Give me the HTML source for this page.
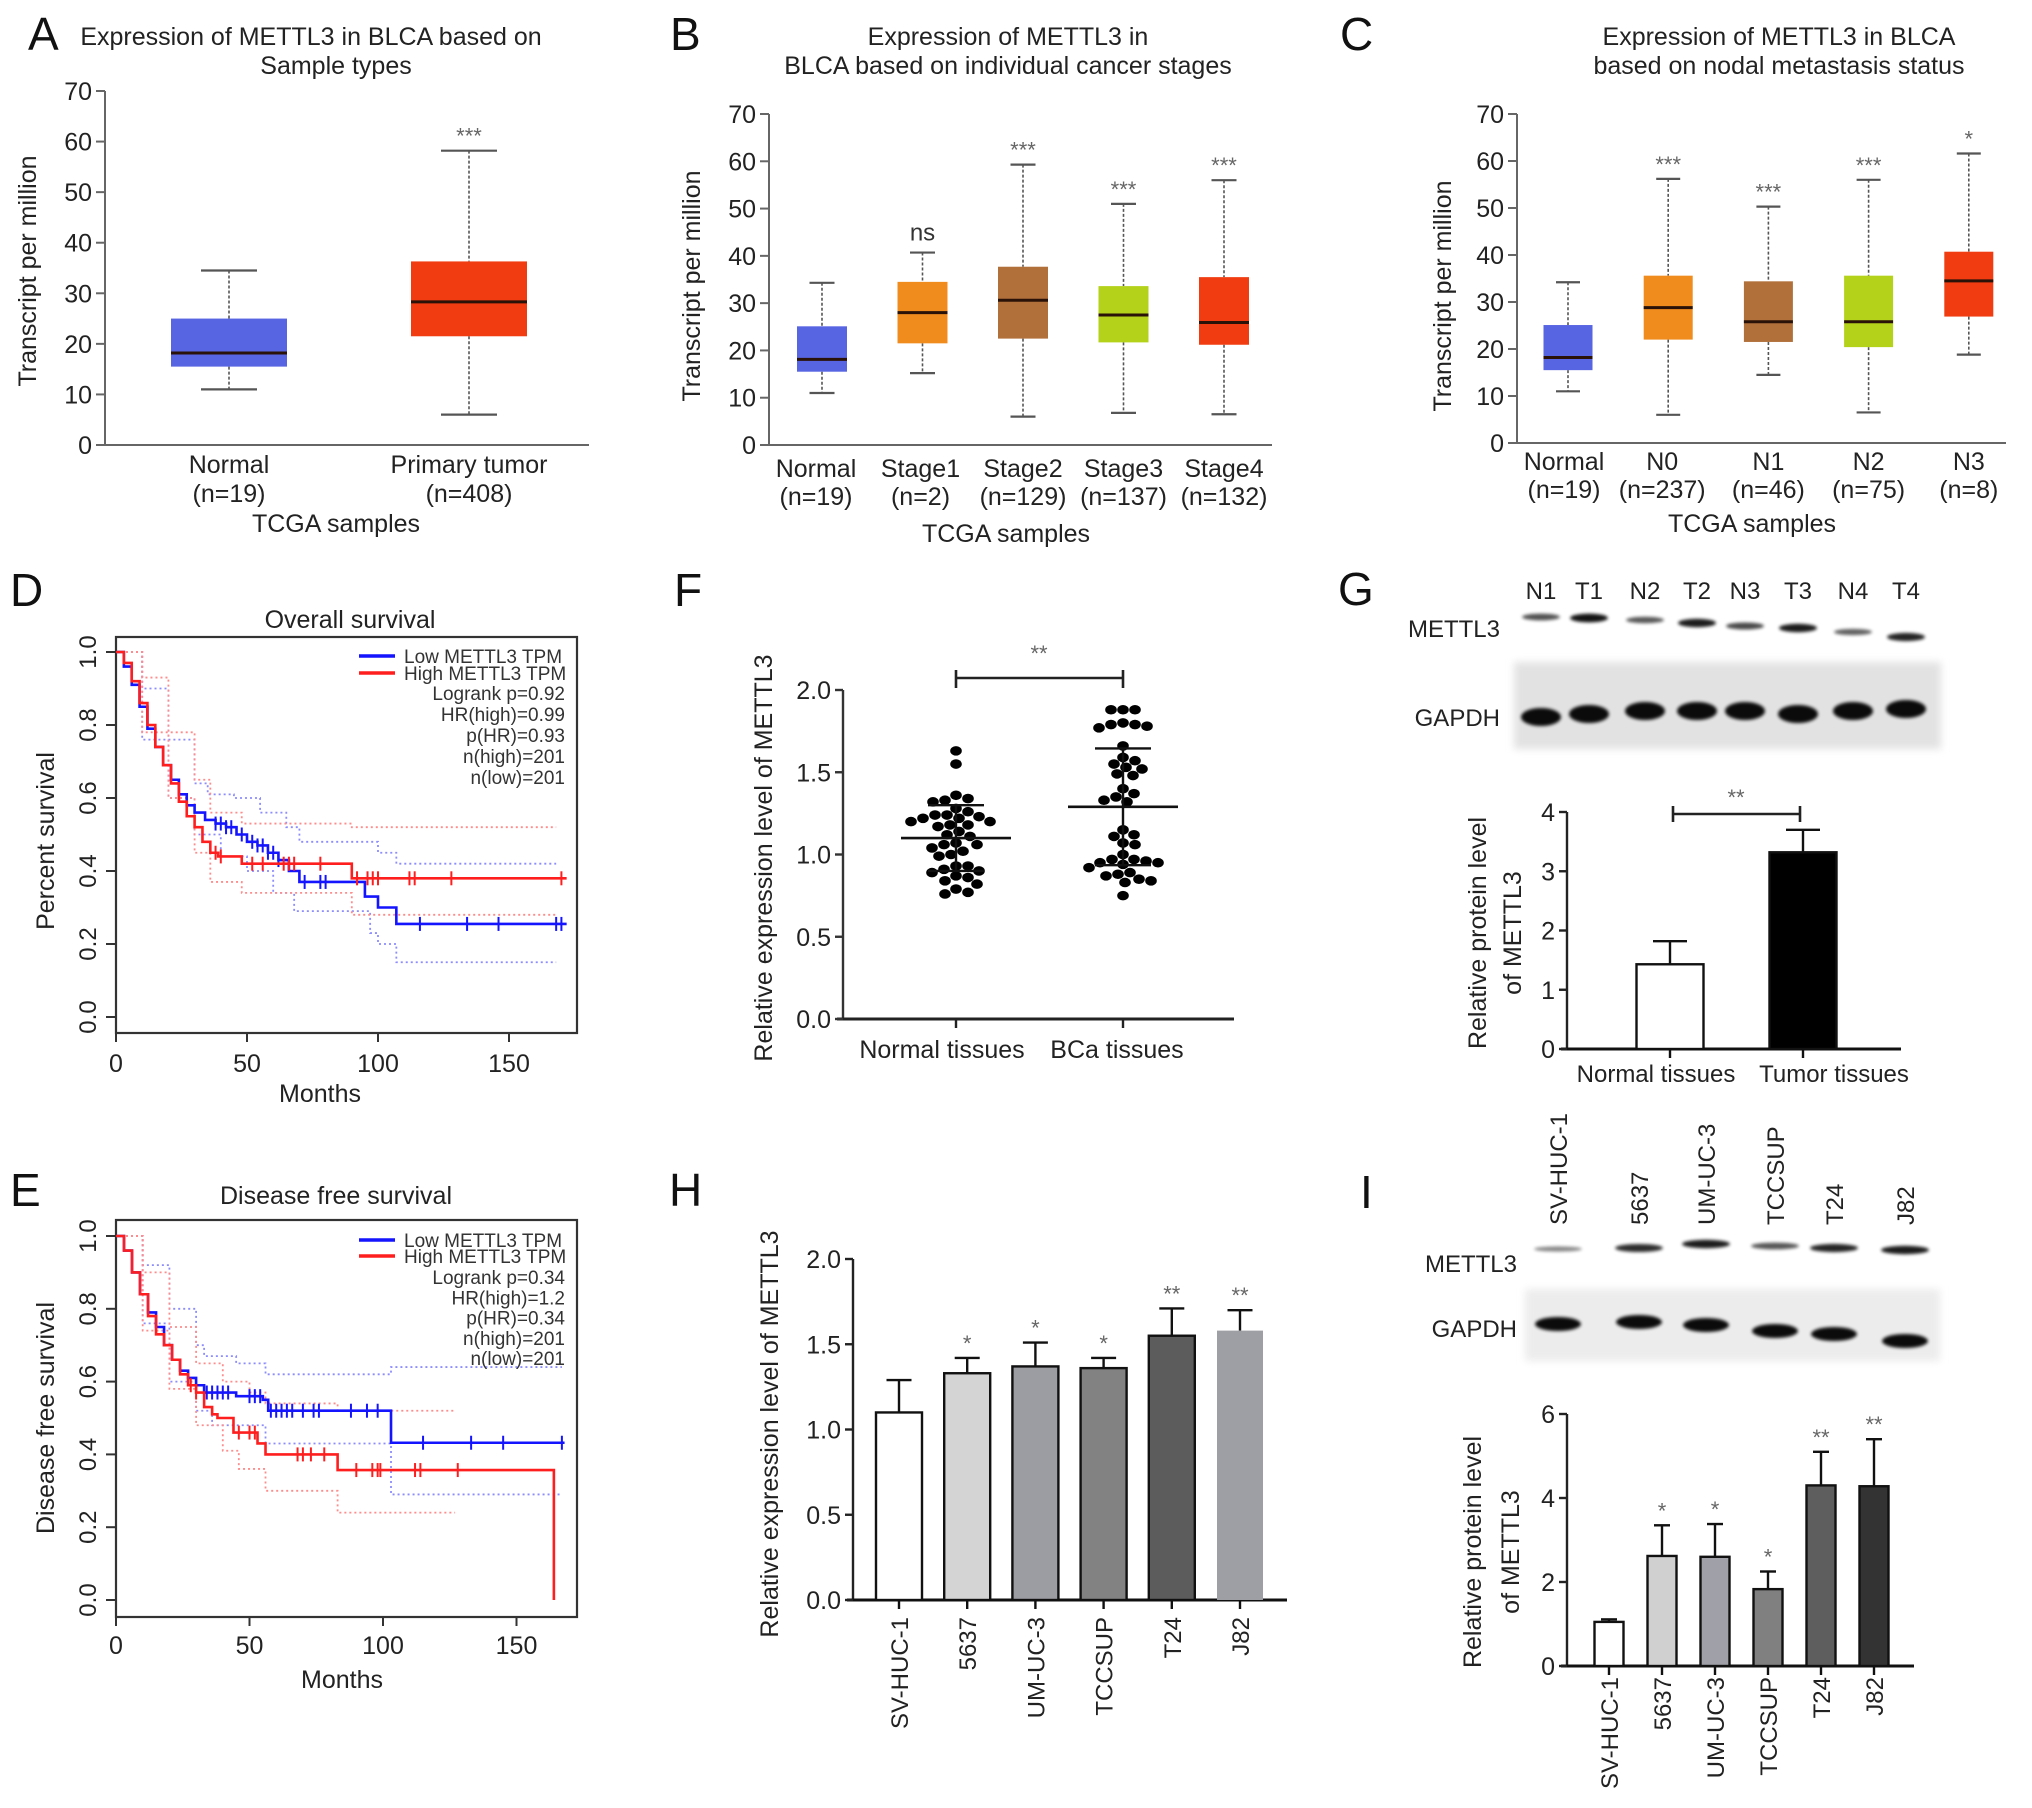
<!DOCTYPE html>
<html><head><meta charset="utf-8">
<style>
body{margin:0;background:#fff}
svg{display:block;font-family:"Liberation Sans",Arial,sans-serif}
</style></head>
<body>
<svg id="fig" width="2032" height="1808" viewBox="0 0 2032 1808">
<defs>
<filter id="blur1" x="-20%" y="-50%" width="140%" height="200%"><feGaussianBlur stdDeviation="1.6"/></filter>
<filter id="blur4"><feGaussianBlur stdDeviation="4"/></filter>
</defs>
<rect width="2032" height="1808" fill="#fff"/>
<g font-size="46" fill="#111">
<text x="28" y="50">A</text>
<text x="670" y="50">B</text>
<text x="1340" y="50">C</text>
<text x="10" y="606">D</text>
<text x="10" y="1206">E</text>
<text x="674" y="606">F</text>
<text x="1338" y="605">G</text>
<text x="669" y="1206">H</text>
<text x="1360" y="1208">I</text>
</g>
<g font-size="25" fill="#222" text-anchor="middle">
<text x="311" y="45">Expression of METTL3 in BLCA based on</text>
<text x="336" y="74">Sample types</text>
<text x="1008" y="45">Expression of METTL3 in</text>
<text x="1008" y="74">BLCA based on individual cancer stages</text>
<text x="1779" y="45">Expression of METTL3 in BLCA</text>
<text x="1779" y="74">based on nodal metastasis status</text>
<text x="350" y="628">Overall survival</text>
<text x="336" y="1204">Disease free survival</text>
</g>
<g font-size="25" fill="#222" text-anchor="middle">
<text transform="translate(36,271) rotate(-90)">Transcript per million</text>
<text x="336" y="532">TCGA samples</text>
<text transform="translate(700,286) rotate(-90)">Transcript per million</text>
<text x="1006" y="542">TCGA samples</text>
<text transform="translate(1451,296) rotate(-90)">Transcript per million</text>
<text x="1752" y="532">TCGA samples</text>
<text transform="translate(54,841) rotate(-90)">Percent survival</text>
<text x="320" y="1102">Months</text>
<text transform="translate(54,1418) rotate(-90)">Disease free survival</text>
<text x="342" y="1688">Months</text>
<text transform="translate(772,858) rotate(-90)">Relative expression level of METTL3</text>
<text transform="translate(1486,933) rotate(-90)">Relative protein level</text>
<text transform="translate(1521,933) rotate(-90)">of METTL3</text>
<text transform="translate(778,1434) rotate(-90)">Relative expression level of METTL3</text>
<text transform="translate(1481,1552) rotate(-90)">Relative protein level</text>
<text transform="translate(1519,1552) rotate(-90)">of METTL3</text>
</g>
<g id="plots"></g>
</svg>
<script>
// ---------- DATA ----------
const aCats = ['Normal', 'Primary tumor'];
const aNs = ['(n=19)', '(n=408)'];
const aMin = [11, 6];
const aQ1 = [15.5, 21.5];
const aMed = [18.2, 28.3];
const aQ3 = [25, 36.3];
const aMax = [34.5, 58.2];
const aSig = ['', '***'];
const bCats = ['Normal', 'Stage1', 'Stage2', 'Stage3', 'Stage4'];
const bNs = ['(n=19)', '(n=2)', '(n=129)', '(n=137)', '(n=132)'];
const bMin = [11, 15.2, 6, 6.8, 6.5];
const bQ1 = [15.5, 21.5, 22.5, 21.7, 21.2];
const bMed = [18.1, 28, 30.6, 27.5, 25.9];
const bQ3 = [25.1, 34.5, 37.7, 33.6, 35.5];
const bMax = [34.3, 40.7, 59.3, 51, 56];
const bSig = ['', 'ns', '***', '***', '***'];
const cCats = ['Normal', 'N0', 'N1', 'N2', 'N3'];
const cNs = ['(n=19)', '(n=237)', '(n=46)', '(n=75)', '(n=8)'];
const cMin = [11, 6, 14.5, 6.5, 18.8];
const cQ1 = [15.5, 22, 21.5, 20.4, 26.9];
const cMed = [18.2, 28.8, 25.8, 25.8, 34.5];
const cQ3 = [25.1, 35.6, 34.4, 35.6, 40.7];
const cMax = [34.2, 56.2, 50.3, 56, 61.6];
const cSig = ['', '***', '***', '***', '*'];
const boxTicks = [0, 10, 20, 30, 40, 50, 60, 70];
const dLowT = [0, 3, 6, 9, 12, 15, 18, 21, 24, 27, 30, 34, 38, 42, 46, 50, 54, 58, 62, 66, 70, 95, 100, 107];
const dLowS = [1, 0.96, 0.91, 0.85, 0.79, 0.74, 0.69, 0.65, 0.61, 0.58, 0.56, 0.54, 0.53, 0.52, 0.5, 0.48, 0.47, 0.45, 0.43, 0.4, 0.37, 0.33, 0.3, 0.255];
const dHighT = [0, 3, 6, 9, 12, 15, 18, 21, 24, 27, 30, 33, 36, 39, 48, 90];
const dHighS = [1, 0.97, 0.92, 0.86, 0.8, 0.74, 0.69, 0.64, 0.59, 0.55, 0.52, 0.48, 0.45, 0.44, 0.42, 0.38];
const dLowCens = [38, 40, 42, 44, 48, 52, 54, 56, 58, 60, 62, 72, 78, 80, 116, 134, 146, 168, 170];
const dHighCens = [38, 40, 52, 56, 64, 66, 68, 78, 92, 96, 98, 100, 112, 114, 128, 170];
const dLowUpT = [0, 10, 20, 30, 35, 45, 55, 65, 70, 95, 100, 107];
const dLowUpS = [1, 0.9, 0.76, 0.64, 0.61, 0.6, 0.56, 0.52, 0.48, 0.48, 0.45, 0.42];
const dLowLoT = [0, 10, 20, 30, 40, 50, 60, 68, 95, 97, 100, 107];
const dLowLoS = [1, 0.76, 0.6, 0.5, 0.44, 0.4, 0.34, 0.29, 0.29, 0.23, 0.2, 0.15];
const dHighUpT = [0, 10, 20, 30, 36, 48, 90];
const dHighUpS = [1, 0.93, 0.78, 0.65, 0.56, 0.53, 0.52];
const dHighLoT = [0, 10, 20, 30, 36, 48, 90];
const dHighLoS = [1, 0.78, 0.6, 0.45, 0.37, 0.34, 0.28];
const dStats = ['Logrank p=0.92', 'HR(high)=0.99', 'p(HR)=0.93', 'n(high)=201', 'n(low)=201'];
const eLowT = [0, 3, 6, 9, 12, 15, 18, 21, 24, 27, 30, 33, 45, 55, 57, 103];
const eLowS = [1, 0.96, 0.9, 0.84, 0.79, 0.75, 0.7, 0.66, 0.63, 0.61, 0.59, 0.57, 0.56, 0.55, 0.52, 0.432];
const eHighT = [0, 3, 6, 9, 12, 15, 18, 21, 24, 27, 30, 33, 36, 38, 44, 53, 56, 83, 164];
const eHighS = [1, 0.96, 0.9, 0.84, 0.78, 0.73, 0.7, 0.66, 0.62, 0.59, 0.57, 0.53, 0.51, 0.5, 0.46, 0.43, 0.4, 0.357, 0];
const eLowCens = [34, 36, 38, 40, 42, 50, 52, 54, 58, 60, 62, 64, 66, 70, 74, 76, 88, 94, 98, 115, 133, 145, 167];
const eHighCens = [28, 30, 46, 50, 52, 68, 70, 73, 78, 90, 96, 98, 99, 112, 114, 128];
const eLowUpT = [0, 10, 20, 30, 33, 45, 56, 103];
const eLowUpS = [1, 0.92, 0.8, 0.7, 0.67, 0.65, 0.62, 0.64];
const eLowLoT = [0, 10, 20, 30, 36, 56, 103];
const eLowLoS = [1, 0.76, 0.6, 0.52, 0.48, 0.43, 0.29];
const eHighUpT = [0, 10, 20, 30, 40, 50, 56, 83];
const eHighUpS = [1, 0.9, 0.75, 0.65, 0.6, 0.57, 0.54, 0.52];
const eHighLoT = [0, 10, 20, 30, 40, 46, 56, 83];
const eHighLoS = [1, 0.74, 0.58, 0.48, 0.41, 0.36, 0.3, 0.24];
const eStats = ['Logrank p=0.34', 'HR(high)=1.2', 'p(HR)=0.34', 'n(high)=201', 'n(low)=201'];
const survXTicks = [0, 50, 100, 150];
const survYTicks = [0, 0.2, 0.4, 0.6, 0.8, 1.0];
const fCats = ['Normal tissues', 'BCa tissues'];
const fNormal = [1.63, 1.55, 1.34, 1.32, 1.33, 1.36, 1.28, 1.26, 1.24, 1.22, 1.2, 1.18, 1.17, 1.18, 1.2, 1.22, 1.23, 1.24, 1.12, 1.07, 1.06, 1.04, 1.02, 1.06, 1.11, 1.14, 0.99, 1.0, 0.93, 0.89, 0.9, 0.91, 0.93, 0.87, 0.84, 0.79, 0.76, 0.77, 0.82, 0.86];
const fBCa = [1.88, 1.88, 1.88, 1.79, 1.78, 1.77, 1.79, 1.8, 1.66, 1.57, 1.59, 1.55, 1.53, 1.49, 1.48, 1.52, 1.4, 1.37, 1.35, 1.33, 1.32, 1.15, 1.12, 1.11, 1.07, 1.06, 1.0, 0.97, 0.95, 0.94, 0.92, 0.95, 0.96, 0.97, 0.89, 0.87, 0.88, 0.84, 0.83, 0.85, 0.75];
const fMean = [1.1, 1.29];
const fSd = [0.2, 0.355];
const fTicks = [0, 0.5, 1.0, 1.5, 2.0];
const gLanes = ['N1', 'T1', 'N2', 'T2', 'N3', 'T3', 'N4', 'T4'];
const gMettl = [0.55, 0.95, 0.5, 0.9, 0.6, 0.9, 0.45, 0.85];
const gCats = ['Normal tissues', 'Tumor tissues'];
const gVals = [1.43, 3.32];
const gErr = [0.39, 0.38];
const gTicks = [0, 1, 2, 3, 4];
const hCats = ['SV-HUC-1', '5637', 'UM-UC-3', 'TCCSUP', 'T24', 'J82'];
const hVals = [1.1, 1.33, 1.37, 1.36, 1.55, 1.58];
const hErr = [0.19, 0.09, 0.14, 0.06, 0.16, 0.12];
const hSig = ['', '*', '*', '*', '**', '**'];
const hTicks = [0, 0.5, 1.0, 1.5, 2.0];
const iCats = ['SV-HUC-1', '5637', 'UM-UC-3', 'TCCSUP', 'T24', 'J82'];
const iMettl = [0.25, 0.8, 0.9, 0.55, 0.85, 0.9];
const iVals = [1.05, 2.62, 2.6, 1.83, 4.3, 4.28];
const iErr = [0.06, 0.73, 0.78, 0.42, 0.8, 1.12];
const iSig = ['', '*', '*', '*', '**', '**'];
const iTicks = [0, 2, 4, 6];

// ---------- HELPERS ----------
const NS = 'http://www.w3.org/2000/svg';
const root = document.getElementById('plots');
function mk(tag, attrs, name, parent) {
  const el = document.createElementNS(NS, tag);
  for (const k in attrs) el.setAttribute(k, attrs[k]);
  
  
  (parent || root).appendChild(el);
  return el;
}
function txt(x, y, s, size, name, extra) {
  const a = Object.assign({x: x, y: y, 'font-size': size, fill: '#222'}, extra || {});
  const t = mk('text', a, name);
  t.textContent = s;
  return t;
}
function line(x1, y1, x2, y2, stroke, w, name, extra) {
  return mk('line', Object.assign({x1: x1, y1: y1, x2: x2, y2: y2, stroke: stroke, 'stroke-width': w}, extra || {}), name);
}

// ---------- BOX PLOTS ----------
function boxPlot(P, cats, ns, mins, q1s, meds, q3s, maxs, sigs, colors, pfx) {
  const y = v => P.yBot - (v / 70) * (P.yBot - P.yTop);
  line(P.ax, y(0), P.ax, y(70), '#666', 2, pfx + '-y-axis');
  line(P.ax - 6, y(0), P.xEnd, y(0), '#666', 2, pfx + '-x-axis');
  boxTicks.forEach(t => {
    line(P.ax - 9, y(t), P.ax, y(t), '#666', 2, pfx + '-y-tick');
    txt(P.ax - 13, y(t) + 9, String(t), 25, pfx + '-y-tick-label', {'text-anchor': 'end'});
  });
  cats.forEach((c, i) => {
    const cx = P.c0 + i * P.step;
    const bw = P.bw, cw = P.cw;
    line(cx, y(maxs[i]), cx, y(q3s[i]), '#555', 1.6, pfx + '-whisker-upper', {'stroke-dasharray': '3,2'});
    line(cx, y(q1s[i]), cx, y(mins[i]), '#555', 1.6, pfx + '-whisker-lower', {'stroke-dasharray': '3,2'});
    line(cx - cw / 2, y(maxs[i]), cx + cw / 2, y(maxs[i]), '#555', 2.2, pfx + '-whisker-cap');
    line(cx - cw / 2, y(mins[i]), cx + cw / 2, y(mins[i]), '#555', 2.2, pfx + '-whisker-cap');
    mk('rect', {x: cx - bw / 2, y: y(q3s[i]), width: bw, height: y(q1s[i]) - y(q3s[i]), fill: colors[i]}, pfx + '-box-' + c.toLowerCase().replace(/\s+/g, '-'));
    line(cx - bw / 2, y(meds[i]), cx + bw / 2, y(meds[i]), '#2a1208', 3, pfx + '-median');
    if (sigs[i]) txt(cx, y(maxs[i]) - (sigs[i] === 'ns' ? 12 : 7), sigs[i], sigs[i] === 'ns' ? 24 : 22, pfx + '-significance', {'text-anchor': 'middle', fill: sigs[i] === 'ns' ? '#333' : '#666'});
    txt(cx + (P.lblOff ? P.lblOff[i] : 0), P.l1, c, 25, pfx + '-category-label', {'text-anchor': 'middle'});
    txt(cx + (P.lblOff ? P.lblOff[i] : 0), P.l2, ns[i], 25, pfx + '-n-label', {'text-anchor': 'middle'});
  });
}
boxPlot({ax: 105, yTop: 91, yBot: 445, xEnd: 589, c0: 229, step: 240, bw: 116, cw: 56, l1: 473, l2: 502},
  aCats, aNs, aMin, aQ1, aMed, aQ3, aMax, aSig, ['#5865e2', '#f03c10'], 'panel-a');
boxPlot({ax: 769, yTop: 114, yBot: 445, xEnd: 1272, c0: 822, step: 100.5, bw: 50, cw: 25, l1: 477, l2: 505, lblOff: [-6, -2, 0, 0, 0]},
  bCats, bNs, bMin, bQ1, bMed, bQ3, bMax, bSig, ['#5865e2', '#f08c1e', '#b1703a', '#b4d21a', '#f03c10'], 'panel-b');
boxPlot({ax: 1517, yTop: 114, yBot: 443, xEnd: 2006, c0: 1568, step: 100.2, bw: 49, cw: 24, l1: 470, l2: 498, lblOff: [-4, -6, 0, 0, 0]},
  cCats, cNs, cMin, cQ1, cMed, cQ3, cMax, cSig, ['#5865e2', '#f08c1e', '#b1703a', '#b4d21a', '#f03c10'], 'panel-c');

// ---------- SURVIVAL ----------
function stepPath(T, S, tEnd, xs, ys) {
  let d = 'M' + xs(T[0]) + ',' + ys(S[0]);
  for (let i = 1; i < T.length; i++) d += 'H' + xs(T[i]) + 'V' + ys(S[i]);
  if (tEnd != null) d += 'H' + xs(tEnd);
  return d;
}
function survAt(T, S, t) { let s = S[0]; for (let i = 0; i < T.length; i++) if (T[i] <= t) s = S[i]; return s; }
function survival(P, series, stats, pfx) {
  const xs = t => P.x0 + t * P.kx;
  const ys = s => P.yB - s * (P.yB - P.yT);
  mk('rect', {x: P.fx1, y: P.fy1, width: P.fx2 - P.fx1, height: P.fy2 - P.fy1, fill: 'none', stroke: '#333', 'stroke-width': 2.2}, pfx + '-frame');
  survXTicks.forEach(t => {
    line(xs(t), P.fy2, xs(t), P.fy2 + 9, '#333', 2, pfx + '-x-tick');
    txt(xs(t), P.xl, String(t), 25, pfx + '-x-tick-label', {'text-anchor': 'middle'});
  });
  survYTicks.forEach(s => {
    line(P.fx1 - 10, ys(s), P.fx1, ys(s), '#333', 2, pfx + '-y-tick');
    txt(0, 0, s.toFixed(1), 24, pfx + '-y-tick-label', {'text-anchor': 'middle', transform: 'translate(' + (P.fx1 - 20) + ',' + ys(s) + ') rotate(-90)'});
  });
  series.forEach(sr => {
    sr.bands.forEach(b => mk('path', {d: stepPath(b[0], b[1], b[2], xs, ys), fill: 'none', stroke: sr.light, 'stroke-width': 1.8, 'stroke-dasharray': '2,3'}, pfx + '-confidence-band-' + sr.key));
  });
  series.forEach(sr => {
    mk('path', {d: stepPath(sr.T, sr.S, sr.end, xs, ys), fill: 'none', stroke: sr.color, 'stroke-width': 2.6}, pfx + '-curve-' + sr.key);
    sr.cens.forEach(t => {
      const s = survAt(sr.T, sr.S, t);
      line(xs(t), ys(s) - 7, xs(t), ys(s) + 7, sr.color, 2, pfx + '-censor-mark-' + sr.key);
    });
  });
  line(P.lgx, P.lg1, P.lgx + 36, P.lg1, '#1414ff', 3.5, pfx + '-legend-line-low');
  txt(P.lgx + 45, P.lg1 + 7, 'Low METTL3 TPM', 19, pfx + '-legend-low', {fill: '#333'});
  line(P.lgx, P.lg2, P.lgx + 36, P.lg2, '#ff1e1e', 3.5, pfx + '-legend-line-high');
  txt(P.lgx + 45, P.lg2 + 7, 'High METTL3 TPM', 19, pfx + '-legend-high', {fill: '#333'});
  stats.forEach((s, i) => txt(P.sx, P.sy + i * P.sdy + 7, s, 19, pfx + '-stat-' + i, {'text-anchor': 'end', fill: '#333'}));
}
survival({x0: 116, kx: 2.62, yB: 1017, yT: 652, fx1: 116, fx2: 577, fy1: 637, fy2: 1033, xl: 1072, lgx: 359, lg1: 656, lg2: 673, sx: 565, sy: 693, sdy: 21},
  [{key: 'low', T: dLowT, S: dLowS, end: 172, cens: dLowCens, color: '#1414ff', light: '#8c8cff', bands: [[dLowUpT, dLowUpS, 168], [dLowLoT, dLowLoS, 168]]},
   {key: 'high', T: dHighT, S: dHighS, end: 172, cens: dHighCens, color: '#ff1e1e', light: '#ff8c8c', bands: [[dHighUpT, dHighUpS, 168], [dHighLoT, dHighLoS, 168]]}],
  dStats, 'panel-d');
survival({x0: 116, kx: 2.67, yB: 1600, yT: 1236, fx1: 116, fx2: 577, fy1: 1220, fy2: 1617, xl: 1654, lgx: 359, lg1: 1240, lg2: 1256, sx: 565, sy: 1277, sdy: 20.3},
  [{key: 'low', T: eLowT, S: eLowS, end: 168, cens: eLowCens, color: '#1414ff', light: '#8c8cff', bands: [[eLowUpT, eLowUpS, 167], [eLowLoT, eLowLoS, 167]]},
   {key: 'high', T: eHighT, S: eHighS, end: null, cens: eHighCens, color: '#ff1e1e', light: '#ff8c8c', bands: [[eHighUpT, eHighUpS, 127], [eHighLoT, eHighLoS, 127]]}],
  eStats, 'panel-e');

// ---------- PANEL F ----------
(function () {
  const ax = 843, yB = 1019, yT = 690, xEnd = 1234;
  const y = v => yB - (v / 2) * (yB - yT);
  const centers = [956, 1123];
  line(ax, yB, ax, yT, '#333', 2.4, 'panel-f-y-axis');
  line(ax - 6, yB, xEnd, yB, '#222', 3, 'panel-f-x-axis');
  fTicks.forEach(t => {
    line(ax - 8, y(t), ax, y(t), '#333', 2.4, 'panel-f-y-tick');
    txt(ax - 12, y(t) + 9, t.toFixed(1), 25, 'panel-f-y-tick-label', {'text-anchor': 'end'});
  });
  [fNormal, fBCa].forEach((vals, g) => {
    const cx = centers[g];
    line(cx, yB, cx, yB + 9, '#222', 2.4, 'panel-f-x-tick');
    txt(cx + (g ? -6 : -14), 1058, fCats[g], 25, 'panel-f-category-label', {'text-anchor': 'middle'});
    const placed = [];
    const order = vals.map((v, i) => i).sort((a, b) => vals[b] - vals[a]);
    order.forEach(i => {
      const py = y(vals[i]);
      let ox = 0;
      for (let k = 0; k < 200; k++) {
        const cand = (k % 2 ? 1 : -1) * Math.ceil(k / 2);
        const ok = placed.every(p => ((cand - p[0]) ** 2) / (11.8 ** 2) + ((py - p[1]) ** 2) / (9.6 ** 2) >= 1);
        if (ok) { ox = cand; break; }
      }
      placed.push([ox, py]);
      mk('ellipse', {cx: cx + ox, cy: py, rx: 5.8, ry: 4.8, fill: '#000'}, 'panel-f-dot');
    });
    line(cx - 55, y(fMean[g]), cx + 55, y(fMean[g]), '#111', 2.6, 'panel-f-mean-line');
    line(cx, y(fMean[g] - fSd[g]), cx, y(fMean[g] + fSd[g]), '#111', 2.4, 'panel-f-sd-line');
    line(cx - 28, y(fMean[g] + fSd[g]), cx + 28, y(fMean[g] + fSd[g]), '#111', 2.4, 'panel-f-sd-cap');
    line(cx - 28, y(fMean[g] - fSd[g]), cx + 28, y(fMean[g] - fSd[g]), '#111', 2.4, 'panel-f-sd-cap');
  });
  line(centers[0], 678, centers[1], 678, '#222', 2.6, 'panel-f-bracket');
  line(centers[0], 670, centers[0], 688, '#222', 2.6, 'panel-f-bracket-end');
  line(centers[1], 670, centers[1], 688, '#222', 2.6, 'panel-f-bracket-end');
  txt(1039, 661, '**', 22, 'panel-f-significance', {'text-anchor': 'middle', fill: '#666'});
})();

// ---------- BLOTS ----------
function band(cx, cy, w, h, dark, name) {
  mk('ellipse', {cx: cx, cy: cy, rx: w / 2, ry: h / 2, fill: '#000', opacity: dark, filter: 'url(#blur1)'}, name);
}
(function () {
  const lx = [1541, 1589, 1645, 1697, 1745, 1798, 1853, 1906];
  const my = [617, 618, 620, 623, 626, 628, 632, 637];
  const gy = [712, 709, 706, 706, 706, 709, 706, 704];
  mk('rect', {x: 1514, y: 662, width: 427, height: 87, fill: '#e2e2e2', filter: 'url(#blur4)'}, 'panel-g-gapdh-membrane');
  gLanes.forEach((l, i) => {
    txt(lx[i], 599, l, 24, 'panel-g-lane-label', {'text-anchor': 'middle'});
    band(lx[i], my[i], 38, 4 + gMettl[i] * 5, 0.35 + gMettl[i] * 0.6, 'panel-g-mettl3-band');
    band(lx[i], gy[i] + 5, 40, 18, 0.95, 'panel-g-gapdh-band');
  });
  txt(1500, 637, 'METTL3', 24, 'panel-g-mettl3-label', {'text-anchor': 'end'});
  txt(1500, 726, 'GAPDH', 24, 'panel-g-gapdh-label', {'text-anchor': 'end'});

  const ix = [1558, 1639, 1706, 1775, 1834, 1905];
  const imy = [1249, 1248, 1244, 1246, 1248, 1250];
  const igy = [1324, 1322, 1325, 1331, 1334, 1341];
  mk('rect', {x: 1525, y: 1289, width: 415, height: 72, fill: '#ececec', filter: 'url(#blur4)'}, 'panel-i-gapdh-membrane');
  iCats.forEach((c, i) => {
    txt(0, 0, c, 24, 'panel-i-lane-label', {transform: 'translate(' + (ix[i] + 9) + ',1225) rotate(-90)'});
    band(ix[i], imy[i], 48, 4 + iMettl[i] * 5, 0.3 + iMettl[i] * 0.65, 'panel-i-mettl3-band');
    band(ix[i], igy[i], 46, 14, 0.95, 'panel-i-gapdh-band');
  });
  txt(1517, 1272, 'METTL3', 24, 'panel-i-mettl3-label', {'text-anchor': 'end'});
  txt(1517, 1337, 'GAPDH', 24, 'panel-i-gapdh-label', {'text-anchor': 'end'});
})();

// ---------- BAR CHARTS ----------
function barChart(P, cats, vals, errs, sigs, ticks, colors, pfx) {
  const y = v => P.yB - (v / P.max) * (P.yB - P.yT);
  line(P.ax, P.yB, P.ax, P.yT, '#222', 2.4, pfx + '-y-axis');
  line(P.ax - 6, P.yB, P.xEnd, P.yB, '#111', 3, pfx + '-x-axis');
  ticks.forEach(t => {
    line(P.ax - 8, y(t), P.ax, y(t), '#222', 2.4, pfx + '-y-tick');
    txt(P.ax - 12, y(t) + 9, P.dec ? t.toFixed(1) : String(t), 25, pfx + '-y-tick-label', {'text-anchor': 'end'});
  });
  cats.forEach((c, i) => {
    const cx = P.c0 + i * P.step;
    const top = y(vals[i] + errs[i]);
    line(cx, y(vals[i]), cx, top, '#111', 2.4, pfx + '-error-bar');
    line(cx - P.cap / 2, top, cx + P.cap / 2, top, '#111', 2.4, pfx + '-error-cap');
    const noStroke = colors[i].indexOf('!') === 0;
    const fill = noStroke ? colors[i].slice(1) : colors[i];
    mk('rect', {x: cx - P.bw / 2, y: y(vals[i]), width: P.bw, height: P.yB - y(vals[i]), fill: fill, stroke: noStroke ? 'none' : '#111', 'stroke-width': 2.4}, pfx + '-bar-' + c.toLowerCase().replace(/\s+/g, '-'));
    if (P.xtick) line(cx, P.yB, cx, P.yB + 9, '#111', 2.4, pfx + '-x-tick');
    if (sigs && sigs[i]) txt(cx, top - 7, sigs[i], 22, pfx + '-significance', {'text-anchor': 'middle', fill: '#666'});
    if (P.rot) txt(0, 0, c, 24, pfx + '-category-label', {'text-anchor': 'end', transform: 'translate(' + (cx + 9) + ',' + P.lblY + ') rotate(-90)'});
    else txt(cx + (i ? 31 : -14), P.lblY, c, 24, pfx + '-category-label', {'text-anchor': 'middle'});
  });
}
barChart({ax: 1567, yB: 1049, yT: 812, max: 4, xEnd: 1901, c0: 1670, step: 133, bw: 67, cap: 34, lblY: 1082, xtick: true},
  gCats, gVals, gErr, null, gTicks, ['#ffffff', '#000000'], 'panel-g');
line(1673, 814, 1800, 814, '#222', 2.6, 'panel-g-bracket');
line(1673, 806, 1673, 822, '#222', 2.6, 'panel-g-bracket-end');
line(1800, 806, 1800, 822, '#222', 2.6, 'panel-g-bracket-end');
txt(1736, 805, '**', 22, 'panel-g-significance', {'text-anchor': 'middle', fill: '#666'});
barChart({ax: 853, yB: 1600, yT: 1259, max: 2, xEnd: 1287, c0: 899, step: 68.2, bw: 46, cap: 25, lblY: 1617, xtick: true, rot: true, dec: true},
  hCats, hVals, hErr, hSig, hTicks, ['#ffffff', '#d4d4d4', '#9c9ca3', '#828282', '#5c5c5c', '!#9e9ea5'], 'panel-h');
barChart({ax: 1567, yB: 1666, yT: 1414, max: 6, xEnd: 1914, c0: 1609, step: 53, bw: 29, cap: 16, lblY: 1677, xtick: true, rot: true},
  iCats, iVals, iErr, iSig, iTicks, ['#ffffff', '#d0d0d0', '#a0a0a8', '#808080', '#5e5e5e', '#333333'], 'panel-i');
</script>
</body></html>
